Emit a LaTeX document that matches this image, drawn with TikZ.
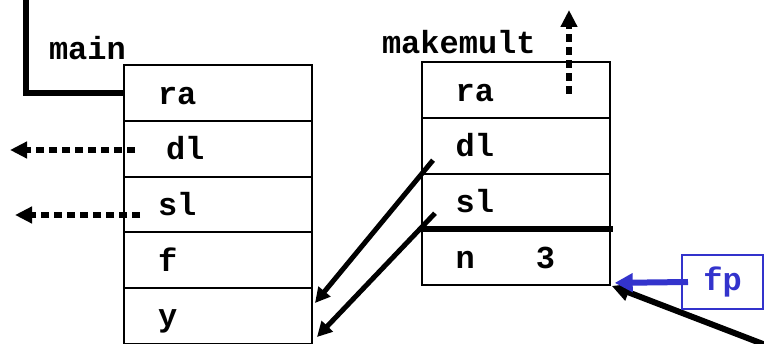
\documentclass[tikz,border=0pt]{standalone}
\usepackage{fontspec}
\newfontfamily\cour{Liberation Mono}
\usetikzlibrary{arrows.meta}
\definecolor{fpblue}{RGB}{51,51,204}
\begin{document}
\begin{tikzpicture}[x=1pt,y=-1pt,
  every node/.style={font=\cour\bfseries\fontsize{32}{36}\selectfont,outer sep=0pt},
  cell/.style={draw,line width=2pt,anchor=north west,minimum height=55.65pt,
    text width=120pt,inner xsep=34pt,inner ysep=0pt,align=left,
    text height=24pt,text depth=2pt},
  title/.style={inner sep=0pt,anchor=base west},
  dotarrow/.style={line width=5.5pt,dash pattern=on 8pt off 5pt,
    -{Triangle[length=17pt,width=16pt]}},
  link/.style={line width=5pt,-{Triangle[length=15pt,width=15pt]}},
]
\useasboundingbox (0,0) rectangle (764,344);

% main's activation record
\node[title] (mainlbl) at (49,60) {main};
\node[cell] (m1) at (124,65.3) {ra};
\node[cell] (m2) at (m1.south west) {\hspace*{8pt}dl};
\node[cell] (m3) at (m2.south west) {sl};
\node[cell] (m4) at (m3.south west) {f};
\node[cell] (m5) at (m4.south west) {y};

% makemult's activation record
\node[title] (mklbl) at (382,54) {makemult};
\node[cell] (k1) at (421.7,62.3) {ra};
\node[cell] (k2) at (k1.south west) {dl};
\node[cell] (k3) at (k2.south west) {sl};
\node[cell] (k4) at (k3.south west) {n\hspace*{61pt}3};

% frame boundary between the links and the locals
\draw[line width=6pt] (k3.south west) -- ([xshift=3pt]k3.south east);

% return address of main
\coordinate (mainret) at (25.5,-4);
\draw[line width=6pt] (m1.west) -| (mainret);

% links of main leave the picture
\coordinate (mdlend) at (10,150);
\coordinate (mslend) at (15,215);
\draw[dotarrow] ([xshift=11pt]m2.west |- mdlend) -- (mdlend);
\draw[dotarrow] ([xshift=16pt]m3.west |- mslend) -- (mslend);

% return address of makemult
\coordinate (kraend) at (569,10);
\draw[dotarrow] (kraend |- k1.south) ++(0,-24) -- (kraend);

% dynamic and static links of makemult point at main's y
\draw[link] ([shift={(11.3pt,13.4pt)}]k2.south west) -- ([shift={(3pt,12.7pt)}]m5.east);
\draw[link] ([shift={(13.3pt,16pt)}]k3.south west) -- ([shift={(5pt,-21.3pt)}]m5.east);

% incoming pointer to the end of makemult's frame
\coordinate (farend) at (776,349);
\draw[line width=6pt,-{Triangle[length=18pt,width=17pt]}] (farend) -- ([shift={(2pt,-1pt)}]k4.south east);

% frame pointer
\node[draw=fpblue,text=fpblue,line width=2pt,minimum width=81pt,minimum height=54pt,
  inner sep=0pt] (fp) at (722.5,282) {fp};
\draw[fpblue,line width=6pt,-{Triangle[length=18pt,width=18pt]}]
  ([xshift=6pt]fp.west) -- ([shift={(5pt,2pt)}]k4.south east);
\end{tikzpicture}
\end{document}
